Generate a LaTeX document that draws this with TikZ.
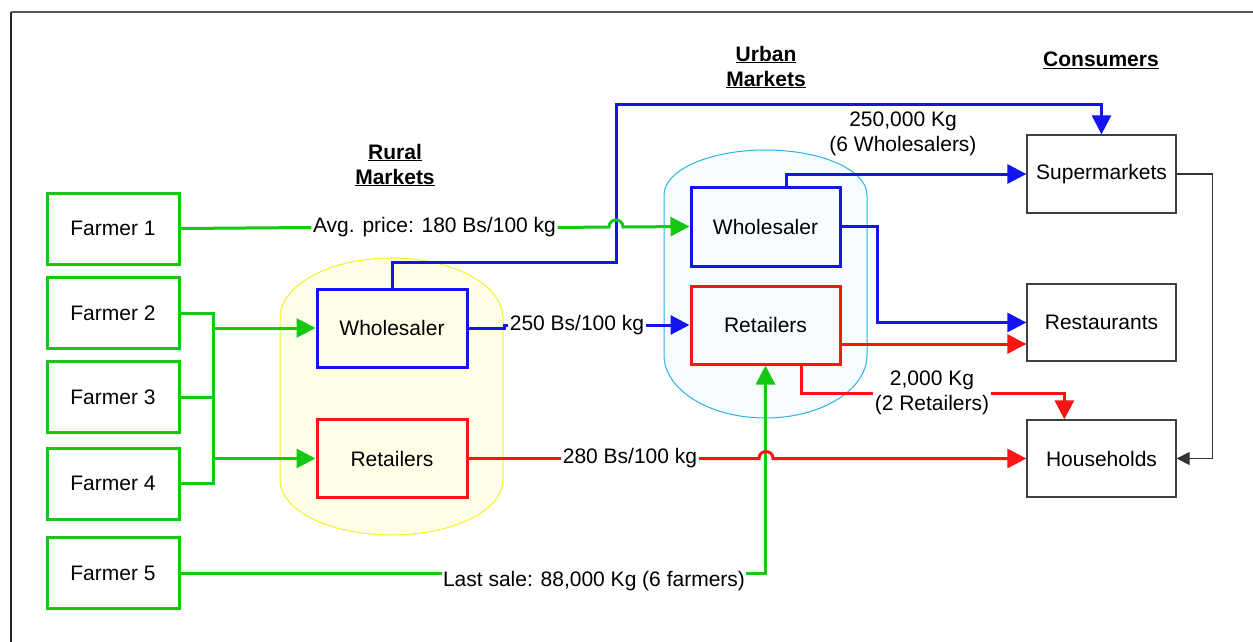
\documentclass[tikz,border=0pt]{standalone}
\usepackage{fontspec}
\setmainfont{Liberation Sans}
\usetikzlibrary{arrows.meta,calc}
\definecolor{fgreen}{RGB}{20,200,20}
\definecolor{fblue}{RGB}{20,20,240}
\definecolor{fred}{RGB}{250,20,20}
\definecolor{ylborder}{RGB}{245,240,40}
\definecolor{ylfill}{RGB}{255,255,232}
\definecolor{ubborder}{RGB}{40,180,230}
\definecolor{ubfill}{RGB}{246,252,255}
\begin{document}
\begin{tikzpicture}[x=1pt,y=-1pt,
  every node/.style={font=\fontsize{21}{25}\selectfont, text=black},
  farmer/.style={draw=fgreen, line width=3pt, minimum width=132pt, minimum height=71pt, inner sep=0pt, fill=white},
  wbox/.style={draw=fblue, line width=3pt, minimum width=150pt, minimum height=78pt, inner sep=0pt},
  rbox/.style={draw=fred, line width=3pt, minimum width=150pt, minimum height=78pt, inner sep=0pt},
  cbox/.style={draw=black!75, line width=1.3pt, minimum width=149pt, minimum height=77pt, inner sep=0pt, fill=white},
  gline/.style={draw=fgreen, line width=3pt},
  bline/.style={draw=fblue, line width=3pt},
  rline/.style={draw=fred, line width=3pt},
  kline/.style={draw=black!80, line width=1.3pt},
  tip/.style={-{Triangle[length=19pt,width=19pt]}},
  ktip/.style={-{Triangle[length=13pt,width=13pt]}},
  lbl/.style={fill=white, inner sep=1.5pt},
  title/.style={font=\fontsize{21}{25}\selectfont\bfseries, align=center}
]
\useasboundingbox (0,0) rectangle (1253,642);
% frame
\draw[line width=1.5pt, black!85] (11,642) -- (11,12);
\draw[line width=1.5pt, black!65] (11,12) -- (1253,12);

% market areas
\draw[ylborder, fill=ylfill, line width=1pt]
  (280,318) .. controls (280,284.9) and (329.9,258) .. (391.5,258)
  .. controls (453.1,258) and (503,284.9) .. (503,318) -- (503,480)
  .. controls (503,510.4) and (453.1,535) .. (391.5,535)
  .. controls (329.9,535) and (280,510.4) .. (280,480) -- cycle;
\draw[ubborder, fill=ubfill, line width=1pt]
  (664,195) .. controls (664,170.1) and (709.4,150) .. (765.5,150)
  .. controls (821.6,150) and (867,170.1) .. (867,195) -- (867,355)
  .. controls (867,389.8) and (821.6,418) .. (765.5,418)
  .. controls (709.4,418) and (664,389.8) .. (664,355) -- cycle;

% titles
\node[title] (tRural) at (395,165) {\underline{Rural}\\\underline{Markets}};
\node[title] (tUrban) at (766,67) {\underline{Urban}\\\underline{Markets}};
\node[title] (tCons) at (1101,60) {\underline{Consumers}};

% farmers
\node[farmer] (f1) at (113,228.5) {Farmer 1};
\node[farmer] (f2) at (113,313) {Farmer 2};
\node[farmer] (f3) at (113,397) {Farmer 3};
\node[farmer] (f4) at (113,483.5) {Farmer 4};
\node[farmer] (f5) at (113,573) {Farmer 5};

% rural markets
\node[wbox] (rw) at (392,328) {Wholesaler};
\node[rbox] (rr) at (392,458.5) {Retailers};

% urban markets
\node[wbox, minimum width=149pt, minimum height=79pt] (uw) at (765.5,226.5) {Wholesaler};
\node[rbox, minimum width=149pt] (ur) at (765.5,325) {Retailers};

% consumers
\node[cbox, minimum height=78pt] (sm) at (1101.5,174) {Supermarkets};
\node[cbox] (rest) at (1101.5,322.5) {Restaurants};
\node[cbox] (hh) at (1101.5,458.5) {Households};

% blue connectors
\coordinate (bj1) at (616,262);
\coordinate (bj2) at (616,104);
\draw[bline,tip] (rw.north) |- (bj1) -- (bj2) -| (sm.north);
\node (lblW) at (903,134) [align=center] {250,000 Kg\\(6 Wholesalers)};
\draw[bline,tip] (rw.east) -- ++(36,0) |- (ur.west);
\node[lbl] (lblB) at (577,325) {250 Bs/100 kg};
\draw[bline,tip] ($(uw.north west)+(97,0)$) |- (sm.west);
\draw[bline,tip] (uw.east) -- ++(36,0) |- (rest.west);

% green connectors
\node[lbl] (lblA) at (434.5,227.5) {Avg. price: 180 Bs/100 kg};
\draw[gline] (f1.east) -- (lblA.west);
\draw[gline,tip] (lblA.east) -- (609,227) .. controls (609,217.7) and (623,217.7) .. (623,227) -- (uw.west);
\coordinate (bt) at (213,313);
\coordinate (bb) at (213,483.5);
\draw[gline] (f2.east) -- (bt) -- (bb) -- (f4.east);
\draw[gline] (f3.east) -- (f3.east -| bt);
\draw[gline,tip] (bt |- rw.west) -- (rw.west);
\draw[gline,tip] (bt |- rr.west) -- (rr.west);
\draw[gline,tip] (f5.east) -| (ur.south);
\node[lbl] (lblE) at (594,581) {Last sale: 88,000 Kg (6 farmers)};

% red connectors
\node[lbl] (lblC) at (630,458.5) {280 Bs/100 kg};
\draw[rline] (rr.east) -- (lblC.west);
\draw[rline,tip] (lblC.east) -- (759,458.5) .. controls (759,449.2) and (773,449.2) .. (773,458.5) -- (hh.west);
\coordinate (r344) at (0,344);
\draw[rline,tip] (ur.east |- r344) -- (rest.west |- r344);
\draw[rline,tip] ($(ur.south west)+(112,0)$) -- ++(0,28) -| ($(hh.north west)+(38,0)$);
\node[lbl, align=center] (lblD) at (932,392.5) {2,000 Kg\\(2 Retailers)};

% black connector
\draw[kline,ktip] (sm.east) -- ++(36,0) |- (hh.east);
\end{tikzpicture}
\end{document}
